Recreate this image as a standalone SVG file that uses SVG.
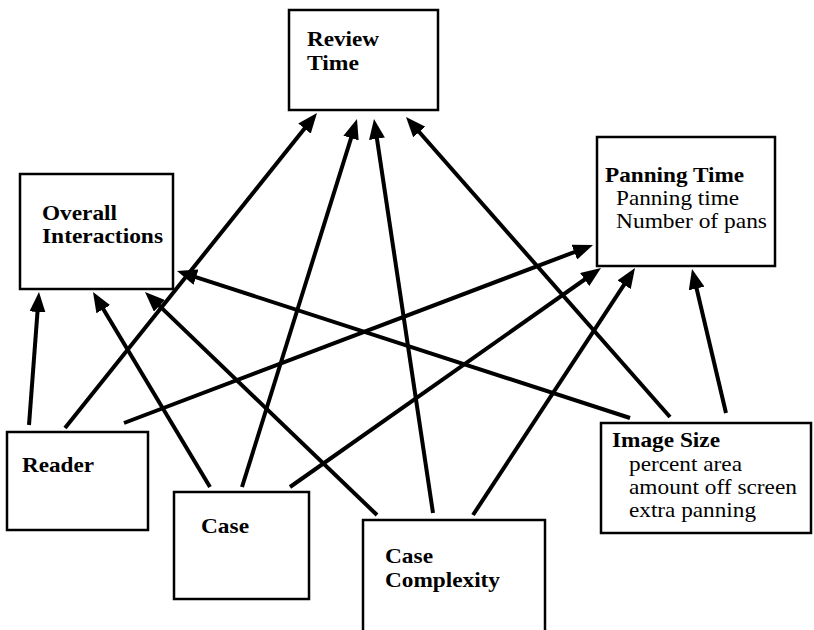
<svg xmlns="http://www.w3.org/2000/svg" width="814" height="630" viewBox="0 0 814 630">
<style>
.box{fill:#fff;stroke:#000;stroke-width:2.5}
.b{font-family:"Liberation Serif","Times New Roman",serif;font-size:22px;font-weight:bold;fill:#000}
.r{font-family:"Liberation Serif","Times New Roman",serif;font-size:22px;fill:#000}
.c{stroke:#000;stroke-width:4;fill:none;marker-end:url(#ah)}
</style>
<defs>
<marker id="ah" markerUnits="userSpaceOnUse" viewBox="0 0 20 16" refX="10" refY="8" markerWidth="20" markerHeight="16" orient="auto">
<path d="M0,0 L20,8 L0,16 z" fill="#000"/>
</marker>
</defs>
<rect width="814" height="630" fill="#fff"/>
<g id="review-time">
<rect class="box" x="289" y="10" width="149" height="100"/>
<text class="b" x="307" y="46" textLength="72" lengthAdjust="spacingAndGlyphs">Review</text>
<text class="b" x="307" y="69.5" textLength="52" lengthAdjust="spacingAndGlyphs">Time</text>
</g>
<g id="overall-interactions">
<rect class="box" x="20" y="174" width="153" height="115"/>
<text class="b" x="42" y="220" textLength="75" lengthAdjust="spacingAndGlyphs">Overall</text>
<text class="b" x="42" y="243" textLength="121" lengthAdjust="spacingAndGlyphs">Interactions</text>
</g>
<g id="panning-time">
<rect class="box" x="597" y="137" width="178" height="129"/>
<text class="b" x="605" y="182" textLength="139" lengthAdjust="spacingAndGlyphs">Panning Time</text>
<text class="r" x="616" y="205" textLength="123" lengthAdjust="spacingAndGlyphs">Panning time</text>
<text class="r" x="616" y="228" textLength="151" lengthAdjust="spacingAndGlyphs">Number of pans</text>
</g>
<g id="reader">
<rect class="box" x="7" y="432" width="141" height="98"/>
<text class="b" x="22" y="472" textLength="72" lengthAdjust="spacingAndGlyphs">Reader</text>
</g>
<g id="case">
<rect class="box" x="174" y="492" width="135" height="107"/>
<text class="b" x="201" y="533" textLength="48" lengthAdjust="spacingAndGlyphs">Case</text>
</g>
<g id="case-complexity">
<rect class="box" x="363" y="520" width="182" height="130"/>
<text class="b" x="385" y="563" textLength="48" lengthAdjust="spacingAndGlyphs">Case</text>
<text class="b" x="385" y="586.5" textLength="115" lengthAdjust="spacingAndGlyphs">Complexity</text>
</g>
<g id="image-size">
<rect class="box" x="601" y="423" width="210" height="110"/>
<text class="b" x="612" y="447" textLength="108" lengthAdjust="spacingAndGlyphs">Image Size</text>
<text class="r" x="629" y="471" textLength="113" lengthAdjust="spacingAndGlyphs">percent area</text>
<text class="r" x="629" y="494" textLength="168" lengthAdjust="spacingAndGlyphs">amount off screen</text>
<text class="r" x="629" y="517" textLength="127" lengthAdjust="spacingAndGlyphs">extra panning</text>
</g>
<g id="connectors">
<line class="c" x1="29" y1="425" x2="38.25" y2="301.97"/>
<line class="c" x1="65" y1="428" x2="310.75" y2="120.81"/>
<line class="c" x1="124" y1="423" x2="583.65" y2="248.55"/>
<line class="c" x1="210" y1="487" x2="98.15" y2="300.58"/>
<line class="c" x1="242" y1="487" x2="354.02" y2="128.55"/>
<line class="c" x1="290" y1="487" x2="592.82" y2="273.76"/>
<line class="c" x1="377" y1="515" x2="152.21" y2="298.93"/>
<line class="c" x1="433" y1="513" x2="375.48" y2="128.89"/>
<line class="c" x1="473" y1="515" x2="629.52" y2="276.36"/>
<line class="c" x1="630" y1="418" x2="186.51" y2="274.09"/>
<line class="c" x1="670" y1="417" x2="412.61" y2="124.51"/>
<line class="c" x1="726" y1="413" x2="694.30" y2="278.73"/>
</g>
</svg>
